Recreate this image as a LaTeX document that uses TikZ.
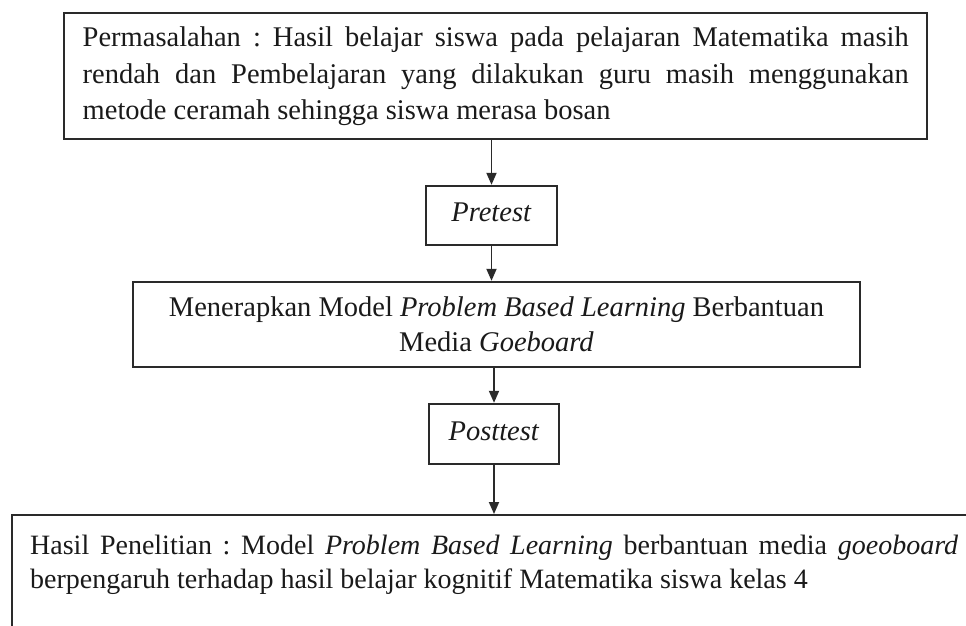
\documentclass[tikz,border=0pt]{standalone}
\usepackage{fontspec}
\setmainfont{Liberation Serif}
\usetikzlibrary{arrows.meta}
\definecolor{linec}{HTML}{2A2A2A}
\definecolor{txt}{HTML}{1A1A1A}
\hyphenpenalty=10000
\frenchspacing
\begin{document}
\begin{tikzpicture}[x=1pt,y=-1pt,
  box/.style={draw=linec, line width=2.4pt, text=txt},
  arr/.style={draw=linec, line width=1.8pt, -{Triangle[length=12pt,width=10pt]}},
  smallbox/.style={box, inner sep=0pt, text height=18pt, text depth=6pt},
  font=\fontsize{28.5}{36.5}\selectfont]
\useasboundingbox[fill=white] (0,0) rectangle (966,625);
\node[box, anchor=north west, minimum width=863pt, minimum height=126pt,
      text width=826pt, inner xsep=18.5pt, inner ysep=0pt, align=justify] (prob) at (63,12)
  {Permasalahan : Hasil belajar siswa pada pelajaran Matematika masih\linebreak
   rendah dan Pembelajaran yang dilakukan guru masih menggunakan\linebreak
   metode ceramah sehingga siswa merasa bosan};
\node[smallbox, minimum width=131pt, minimum height=59pt] (pre) at (491.5,215.5) {\textit{Pretest}};
\node[box, minimum width=727pt, minimum height=85pt, inner sep=0pt, align=center,
      font=\fontsize{28.5}{35}\selectfont] (men) at (496.5,324.5)
  {Menerapkan Model \textit{Problem Based Learning} Berbantuan\\ Media \textit{Goeboard}};
\node[smallbox, minimum width=130pt, minimum height=60pt] (post) at (494,434) {\textit{Posttest}};
\node[box, anchor=north west, minimum width=1000pt, minimum height=160pt] (final) at (11,514) {};
\node[anchor=base west, text width=928pt, inner sep=0pt, align=justify, text=txt,
      font=\fontsize{28}{34}\selectfont] (res) at (30,554)
  {Hasil Penelitian : Model \textit{Problem Based Learning} berbantuan media \textit{goeoboard}\linebreak
   berpengaruh terhadap hasil belajar kognitif Matematika siswa kelas 4};
\draw[arr] (pre.north |- prob.south) -- (pre.north);
\draw[arr] (pre.south) -- (pre.south |- men.north);
\draw[arr] (post.north |- men.south) -- (post.north);
\draw[arr] (post.south) -- (post.south |- final.north);
\end{tikzpicture}
\end{document}
